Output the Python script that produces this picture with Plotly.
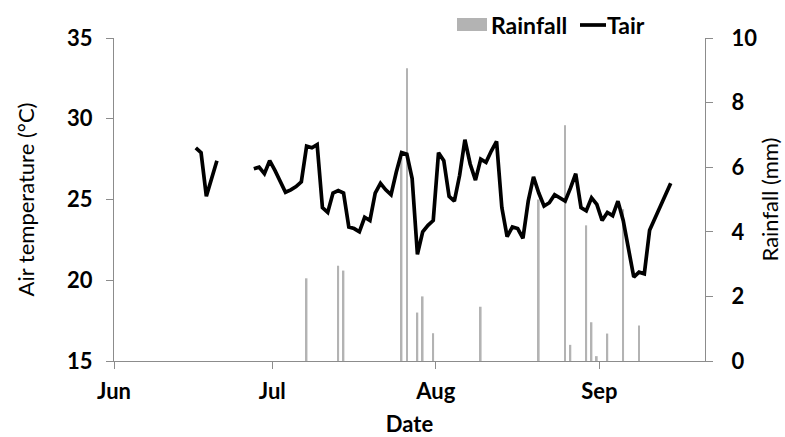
import pandas as pd
import plotly.graph_objects as go

# Daily mean air temperature (°C); None marks days without a record
tair_start = "2014-06-16"
tair_values = [
    28.2, 27.9, 25.2, 26.3, 27.4,                     # Jun 16-20
    None, None, None, None, None, None,               # Jun 21-26
    26.9, 27.0, 26.6, 27.4,                           # Jun 27-30
    26.8, 26.1, 25.45, 25.6, 25.8, 26.1, 28.3, 28.2, 28.4, 24.5,   # Jul 1-10
    24.2, 25.4, 25.55, 25.4, 23.3, 23.2, 23.0, 23.9, 23.7, 25.4,   # Jul 11-20
    26.0, 25.6, 25.3, 26.7, 27.9, 27.8, 26.3, 21.6, 23.0, 23.4, 23.7,  # Jul 21-31
    27.9, 27.4, 25.2, 24.9, 26.5, 28.7, 27.2, 26.2, 27.5, 27.3,    # Aug 1-10
    28.0, 28.6, 24.5, 22.7, 23.3, 23.2, 22.6, 24.9, 26.4, 25.4,    # Aug 11-20
    24.6, 24.8, 25.3, 25.1, 24.9, 25.7, 26.6, 24.5, 24.3, 25.1, 24.7,  # Aug 21-31
    23.7, 24.2, 24.0, 24.9, 23.7, 21.9, 20.2, 20.5, 20.4, 23.1,    # Sep 1-10
    23.8, 24.5, 25.3, 26.0,                                        # Sep 11-14
]

# Daily rainfall (mm)
rain_dates = [
    "2014-07-07", "2014-07-13", "2014-07-14", "2014-07-25", "2014-07-26",
    "2014-07-28", "2014-07-29", "2014-07-31", "2014-08-09", "2014-08-20",
    "2014-08-25", "2014-08-26", "2014-08-29", "2014-08-30", "2014-08-31",
    "2014-09-02", "2014-09-05", "2014-09-08",
]
rain_mm = [
    2.56, 2.95, 2.8, 6.3, 9.06,
    1.5, 2.0, 0.86, 1.68, 5.0,
    7.3, 0.5, 4.2, 1.2, 0.15,
    0.85, 4.7, 1.1,
]

month_ticks = ["2014-06-01", "2014-07-01", "2014-08-01", "2014-09-01"]
month_labels = ["Jun", "Jul", "Aug", "Sep"]

# each day's value sits in the middle of its day band
half_day = pd.Timedelta(hours=12)
tair_x = pd.date_range(tair_start, periods=len(tair_values), freq="D") + half_day
rain_x = pd.to_datetime(rain_dates) + half_day

FONT = "Lato"
AXIS_GREY = "#8c8c8c"
BAR_GREY = "#b3b3b3"

fig = go.Figure()
fig.add_trace(go.Bar(
    x=rain_x, y=rain_mm, name="Rainfall", yaxis="y",
    marker=dict(color=BAR_GREY, line=dict(width=0)),
    width=0.32 * 24 * 3600 * 1000,
))
fig.add_trace(go.Scatter(
    x=tair_x, y=tair_values, name="Tair", yaxis="y2", mode="lines",
    line=dict(color="black", width=3.7), connectgaps=False,
))

tick_font = dict(family=FONT, size=22, color="black", weight="bold")
title_font = dict(family=FONT, size=22, color="black")

fig.update_layout(
    width=785, height=437,
    margin=dict(l=114, r=80, t=38, b=76),
    paper_bgcolor="white", plot_bgcolor="white",
    showlegend=False,
    font=dict(family=FONT, color="black"),
    xaxis=dict(
        type="date", range=["2014-06-01", "2014-09-21"], automargin=False,
        tickvals=month_ticks, ticktext=month_labels,
        ticks="outside", ticklen=7, tickcolor=AXIS_GREY, tickwidth=1,
        showline=True, linecolor=AXIS_GREY, linewidth=1,
        showgrid=False, zeroline=False,
        tickfont=tick_font, ticklabelstandoff=4,
        title=dict(text="Date", font=dict(family=FONT, size=22, weight="bold"), standoff=15),
    ),
    yaxis=dict(
        side="right", range=[0, 10], tickvals=[0, 2, 4, 6, 8, 10], automargin=False,
        ticks="outside", ticklen=7, tickcolor=AXIS_GREY,
        showline=True, linecolor=AXIS_GREY, linewidth=1,
        showgrid=False, zeroline=False,
        tickfont=tick_font, ticklabelstandoff=14,
        title=dict(text="Rainfall (mm)", font=title_font, standoff=6),
    ),
    yaxis2=dict(
        overlaying="y", side="left", range=[15, 35], tickvals=[15, 20, 25, 30, 35],
        automargin=False,
        ticks="outside", ticklen=7, tickcolor=AXIS_GREY,
        showline=True, linecolor=AXIS_GREY, linewidth=1,
        showgrid=False, zeroline=False,
        tickfont=tick_font, ticklabelstandoff=9,
        title=dict(text="Air temperature (°C)", font=title_font, standoff=26),
    ),
)

# legend drawn as swatches and labels above the plot area
def px_x(p):
    return (p - 114) / 591

def px_y(p):
    return (361 - p) / 323

fig.add_shape(type="rect", xref="paper", yref="paper",
              x0=px_x(457), x1=px_x(487), y0=px_y(31), y1=px_y(18),
              fillcolor=BAR_GREY, line=dict(width=0))
fig.add_annotation(text="Rainfall", xref="paper", yref="paper",
                   x=px_x(489), y=px_y(25), xanchor="left", yanchor="middle",
                   showarrow=False, font=dict(family=FONT, size=23, weight="bold"))
fig.add_shape(type="line", xref="paper", yref="paper",
              x0=px_x(580), x1=px_x(606), y0=px_y(25), y1=px_y(25),
              line=dict(color="black", width=3.7))
fig.add_annotation(text="Tair", xref="paper", yref="paper",
                   x=px_x(605), y=px_y(25), xanchor="left", yanchor="middle",
                   showarrow=False, font=dict(family=FONT, size=23, weight="bold"))

fig.write_html("out.html")
